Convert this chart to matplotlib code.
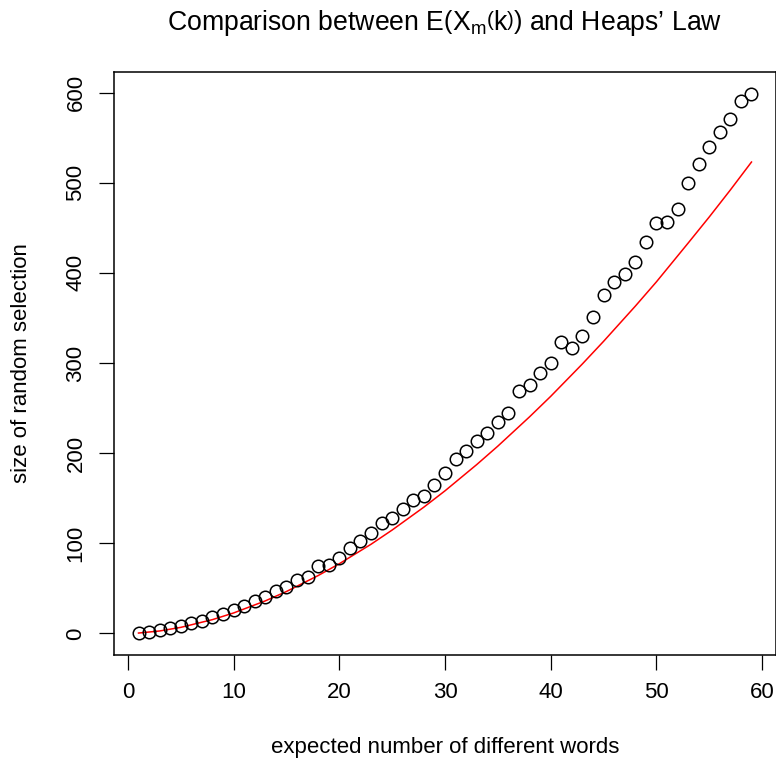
import numpy as np
import matplotlib
matplotlib.use("Agg")
import matplotlib.pyplot as plt

plt.rcParams['font.family'] = ['Liberation Sans', 'DejaVu Sans']
plt.rcParams['mathtext.fontset'] = 'custom'
plt.rcParams['mathtext.rm'] = 'Liberation Sans'
plt.rcParams['mathtext.it'] = 'Liberation Sans:italic'

#observed points: expected number of different words vs size of random selection
words = np.arange(1, 60)
size = [0.3, 1.5, 3.7, 6, 8.5, 11, 13.4, 17.8, 22, 25.6,
        30.8, 35.7, 40.9, 47.6, 51.6, 59.4, 62.5, 74.7, 75.8, 83.3,
        94.5, 103, 111, 123, 128.6, 138, 148, 152.8, 165, 177.7,
        193.7, 202, 213.8, 222.7, 234.5, 244, 269, 275.5, 289, 300,
        323, 317, 330, 351, 375.8, 389.6, 399, 412, 434.6, 455,
        456.5, 470.6, 499.6, 520.8, 539.4, 556.8, 571, 590.3, 598.9]

#heaps' law curve
heapsX = [1, 3, 5, 8, 10, 13, 15, 18, 20, 23, 25, 28, 30,
          33, 35, 38, 40, 43, 45, 48, 50, 53, 55, 57, 59]
heapsY = [0.4, 2.7, 6.7, 15.3, 22.7, 36.1, 46.5, 64.2, 77.3, 98.9, 114.7, 140.1, 158.2,
          187.3, 207.8, 240.3, 263, 299, 324, 363, 390, 433, 462, 492, 523]

W, H = 776, 765
fig = plt.figure(figsize=(W / 100, H / 100), dpi=100)
ax = fig.add_axes([114 / W, (H - 655) / H, (W - 114) / W, (655 - 72) / H])

ax.plot(heapsX, heapsY, color="#FF0000", linewidth=1.1)
ax.plot(words, size, linestyle="none", marker="o", markersize=9,
        markerfacecolor="none", markeredgecolor="black", markeredgewidth=1.1)

ax.set_xlim(-1.32, 61.32)
ax.set_ylim(-23.96, 622.9)
ax.set_xticks([0, 10, 20, 30, 40, 50, 60])
ax.set_yticks([0, 100, 200, 300, 400, 500, 600])

for s in ax.spines.values():
    s.set_linewidth(1.1)

ax.tick_params(direction="out", length=10.8, width=0.9, labelsize=16, pad=9)
ax.tick_params(axis="y", labelrotation=90)
for lab in ax.get_yticklabels():
    lab.set_va("center")

fig.text(445 / W, (H - 747) / H, "expected number of different words",
         ha="center", va="center", fontsize=16)
fig.text(22 / W, (H - 363.5) / H, "size of random selection",
         ha="center", va="center", rotation=90, fontsize=16)
fig.text(445 / W, (H - 30) / H,
         r"Comparison between $\mathrm{E}\left(\mathrm{X}_{\mathrm{m}}\left(\mathrm{k}\right)\right)$ and Heaps’ Law",
         ha="center", va="baseline", fontsize=19.2)

fig.savefig("out.png", dpi=100)
